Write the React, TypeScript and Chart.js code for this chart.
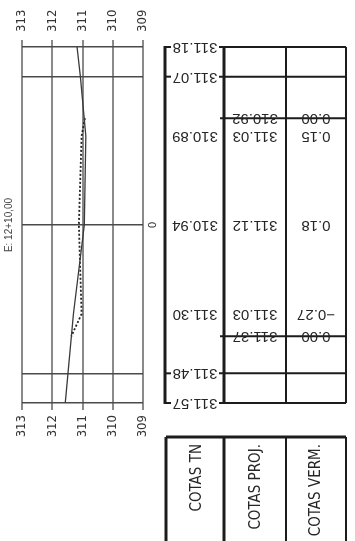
import React, { useEffect, useRef } from 'react';
import { Chart, registerables } from 'chart.js';

Chart.register(...registerables);

// ---- data ----
const elevTicks = [313, 312, 311, 310, 309];
const gridStations = [-6, -5, 0, 5, 6];
const tnStations = [-6, -5, -3, 0, 3, 5, 6];
const tnElev = [311.18, 311.07, 310.89, 310.94, 311.3, 311.48, 311.57];
const projStations = [-3.6, -3, 0, 3, 3.75];
const projElev = [310.92, 311.03, 311.12, 311.03, 311.37];
const vermValues = [0.0, 0.15, 0.18, -0.27, 0.0];
const sectionTitle = 'E: 12+10,00';
const rowHeaders = ['COTAS TN', 'COTAS PROJ.', 'COTAS VERM.'];

const NARROW = "'Liberation Sans Narrow', 'Arial Narrow', 'DejaVu Sans Condensed', sans-serif";
const SANS = "'Liberation Sans', Arial, sans-serif";

const tablePlugin = {
  id: 'sectionTable',
  afterDraw(chart: any) {
    const ctx: CanvasRenderingContext2D = chart.ctx;
    const ys = chart.scales.y;
    const colTN = 165;
    const colP = 224;
    const colV = 286;
    const colEnd = 346;
    const cTN = 195;
    const cP = 255;
    const cV = 316;
    const yTop = ys.getPixelForValue(gridStations[0]);
    const yBot = ys.getPixelForValue(gridStations[gridStations.length - 1]);
    const line = (x1: number, y1: number, x2: number, y2: number, w: number) => {
      ctx.beginPath();
      ctx.lineWidth = w;
      ctx.moveTo(x1, y1);
      ctx.lineTo(x2, y2);
      ctx.stroke();
    };
    const upside = (t: string, x: number, y: number, font: string) => {
      ctx.save();
      ctx.translate(x, y);
      ctx.rotate(Math.PI);
      ctx.font = font;
      ctx.textAlign = 'center';
      ctx.textBaseline = 'middle';
      ctx.fillText(t, 0, 0);
      ctx.restore();
    };
    ctx.save();
    ctx.strokeStyle = '#1c1c1c';
    ctx.fillStyle = '#262626';
    // vertical lines of table
    line(colTN, yTop - 1, colTN, yBot + 1, 3);
    line(colP, yTop - 1, colP, yBot + 1, 3);
    line(colV, yTop, colV, yBot, 2);
    line(colEnd, yTop, colEnd, yBot, 2);
    // row lines outside project
    gridStations.forEach((s) => {
      if (s === 0) return;
      const py = ys.getPixelForValue(s);
      line(colP - 5, py, colEnd, py, 2);
      line(colTN, py, colTN + 6, py, 2);
    });
    // project ends
    [projStations[0], projStations[projStations.length - 1]].forEach((s) => {
      const py = ys.getPixelForValue(s);
      line(colP - 4, py, colEnd, py, 2);
    });
    const numFont = `15px ${SANS}`;
    tnStations.forEach((s, i) => {
      upside(tnElev[i].toFixed(2), cTN, ys.getPixelForValue(s), numFont);
    });
    projStations.forEach((s, i) => {
      const py = ys.getPixelForValue(s);
      upside(projElev[i].toFixed(2), cP, py, numFont);
      const v = vermValues[i];
      upside((v < 0 ? '\u2212' : '') + Math.abs(v).toFixed(2), cV, py, numFont);
    });
    // header box
    const hTop = 437;
    const hBot = chart.height + 2;
    line(colTN + 1, hTop, colEnd, hTop, 3);
    line(colTN + 1, hTop, colTN + 1, hBot, 3);
    line(colP, hTop, colP, hBot, 3);
    line(colV, hTop, colV, hBot, 2);
    line(colEnd, hTop, colEnd, hBot, 2);
    const hx = [197, 256, 316];
    rowHeaders.forEach((t, i) => {
      ctx.save();
      ctx.translate(hx[i], hTop + 7);
      ctx.rotate(-Math.PI / 2);
      ctx.font = `15px ${NARROW}`;
      ctx.textAlign = 'right';
      ctx.textBaseline = 'middle';
      ctx.fillText(t, 0, 0);
      ctx.restore();
    });
    ctx.restore();
  },
};

export default function App() {
  const ref = useRef<HTMLCanvasElement | null>(null);
  useEffect(() => {
    if (!ref.current) return;
    const xCommon = (pos: 'top' | 'bottom', h: number, pad: number, onArea: boolean, mirror: boolean) => ({
      type: 'linear' as const,
      position: pos,
      min: 309,
      max: 313,
      reverse: true,
      afterBuildTicks: (s: any) => {
        s.ticks = elevTicks.map((v) => ({ value: v }));
      },
      afterFit: (s: any) => {
        s.height = h;
        s.paddingLeft = 0;
        s.paddingRight = 0;
      },
      ticks: {
        minRotation: 90,
        maxRotation: 90,
        autoSkip: false,
        mirror,
        padding: pad,
        color: '#333',
        font: { family: NARROW, size: 13 },
        callback: (v: any) => String(v),
      },
      grid: { color: '#8a8a8a', lineWidth: 2, tickLength: 7, drawOnChartArea: onArea },
      border: { display: false },
    });
    const chart = new Chart(ref.current, {
      type: 'scatter',
      data: {
        datasets: [
          {
            label: 'TN',
            data: tnStations.map((s, i) => ({ x: tnElev[i], y: s })),
            showLine: true,
            borderColor: '#3a3a3a',
            borderWidth: 1.3,
            pointRadius: 0,
            xAxisID: 'x',
            yAxisID: 'y',
          },
          {
            label: 'PROJ',
            data: projStations.map((s, i) => ({ x: projElev[i], y: s })),
            showLine: true,
            borderColor: '#222',
            borderWidth: 1.8,
            borderDash: [2, 2],
            pointRadius: 0,
            xAxisID: 'x',
            yAxisID: 'y',
          },
        ],
      },
      options: {
        animation: false,
        responsive: false,
        layout: { padding: 0 },
        plugins: {
          legend: { display: false },
          tooltip: { enabled: false },
          title: {
            display: true,
            text: sectionTitle,
            position: 'left',
            fullSize: false,
            color: '#444',
            font: { family: SANS, size: 10, weight: 'normal' },
            padding: { top: 3, bottom: 7 },
          },
        },
        scales: {
          x: xCommon('bottom', 138, 5, true, false),
          x2: xCommon('top', 47, -15, false, true),
          y: {
            type: 'linear',
            position: 'right',
            min: -6,
            max: 6,
            reverse: true,
            afterBuildTicks: (s: any) => {
              s.ticks = gridStations.map((v) => ({ value: v }));
            },
            afterFit: (s: any) => {
              s.width = 212;
              s.paddingTop = 0;
              s.paddingBottom = 0;
            },
            ticks: {
              minRotation: 90,
              maxRotation: 90,
              crossAlign: 'center',
              padding: 7,
              color: '#333',
              font: { family: SANS, size: 11 },
              callback: (v: any) => (v === 0 ? '0' : ''),
            },
            grid: { color: '#4a4a4a', lineWidth: 1.5, drawTicks: false },
            border: { display: false },
          },
        },
      } as any,
      plugins: [tablePlugin],
    });
    return () => chart.destroy();
  }, []);
  return (
    <div style={{ position: 'fixed', left: 0, top: 0, width: 355, height: 541, background: '#fff' }}>
      <canvas ref={ref} width={355} height={541} style={{ display: 'block', width: 355, height: 541 }} />
    </div>
  );
}
